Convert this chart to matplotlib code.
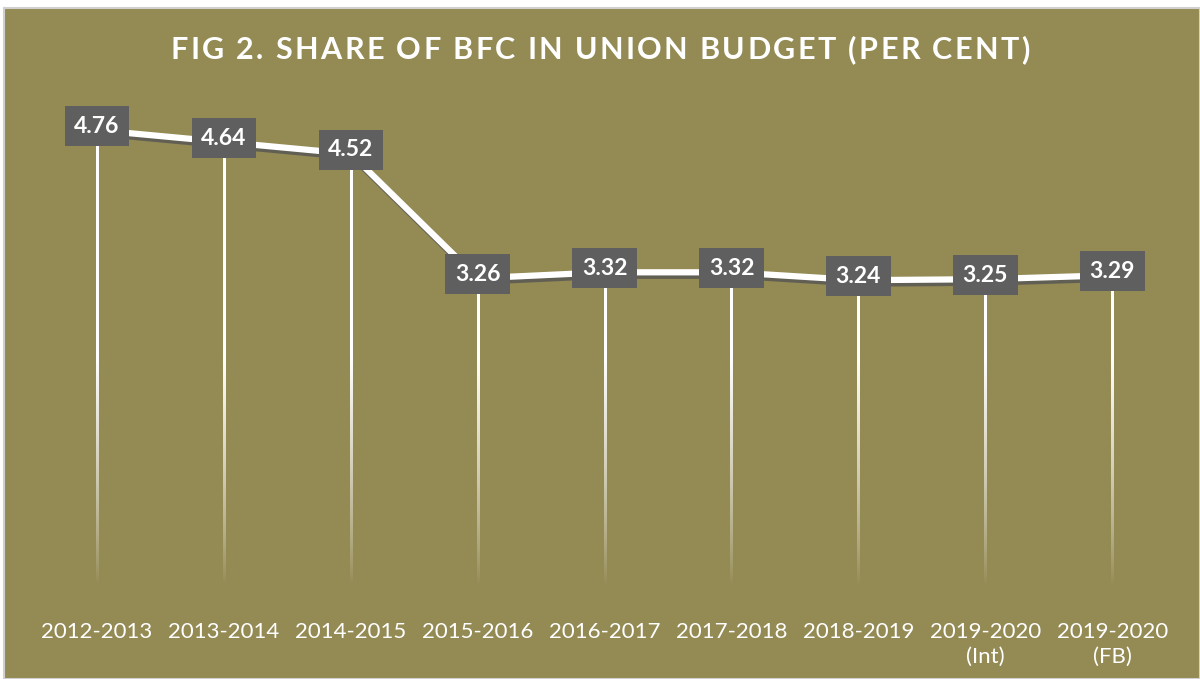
import matplotlib
matplotlib.use("Agg")
import matplotlib.pyplot as plt
import matplotlib.patheffects as pe
from matplotlib.patches import Rectangle
import numpy as np

plt.rcParams['font.family'] = ['Lato', 'DejaVu Sans']

years = ['2012-2013', '2013-2014', '2014-2015', '2015-2016', '2016-2017',
         '2017-2018', '2018-2019', '2019-2020\n(Int)', '2019-2020\n(FB)']
share = [4.76, 4.64, 4.52, 3.26, 3.32, 3.32, 3.24, 3.25, 3.29]
title = 'FIG 2. SHARE OF BFC IN UNION BUDGET (PER CENT)'

bg = '#948a54'

fig = plt.figure(figsize=(12, 6.79), dpi=100, facecolor='white')
# chart area with light grey border
fig.patches.append(Rectangle((4 / 1200, 0), 1 - 4 / 1200, 1 - 8 / 679,
                             transform=fig.transFigure, facecolor=bg,
                             edgecolor='#d0d0d0', linewidth=1.5, zorder=-1))

ax = fig.add_axes([0.028, 0.1163, 0.9517, 0.756])
ax.set_zorder(2)
ax.set_facecolor('none')
x = np.arange(len(years))

# drop lines fading out towards the axis (white gradient strips)
half_w = 0.008
for xi, v in zip(x, share):
    ys = np.linspace(v, 0.1, 200)
    alpha = np.clip((ys - 0.15) / 2.3, 0, 1) ** 0.8
    grad = np.ones((len(ys), 1, 4))
    grad[:, 0, 3] = alpha
    ax.imshow(grad, extent=(xi - half_w, xi + half_w, 0.1, v), origin='upper',
              aspect='auto', interpolation='bilinear', zorder=2)

ax.plot(x, share, color='white', linewidth=4.5, solid_capstyle='round', zorder=3,
        path_effects=[pe.SimpleLineShadow(offset=(1.5, -2.5), shadow_color='#555555', alpha=0.8),
                      pe.Normal()])

for xi, v in zip(x, share):
    ax.text(xi, v + 0.04, f'{v:.2f}', ha='center', va='center', color='white',
            fontsize=16.5, fontweight='bold', zorder=5,
            bbox=dict(boxstyle='square,pad=0.42', facecolor='#5f5f5f', edgecolor='none'))

ax.set_xlim(-0.5, len(years) - 0.5)
ax.set_ylim(0, 5.2)
ax.set_xticks(x)
ax.set_xticklabels(years, color='white', fontsize=16, linespacing=1.3)
ax.tick_params(axis='x', length=0, pad=16)
ax.set_yticks([])
for s in ax.spines.values():
    s.set_visible(False)

# title with letter spacing, placed char by char
r = fig.canvas.get_renderer()
tkw = dict(color='white', fontsize=22, fontweight='bold', va='center', ha='left')

def text_w(s):
    t = fig.text(0, 0, s + '|', **tkw)
    w = t.get_window_extent(r).width
    t.remove()
    return w

bar_w = text_w('')
track = 2.4
total = text_w(title) - bar_w + track * (len(title) - 1)
x0 = 600 - total / 2
for i, ch in enumerate(title):
    px = x0 + text_w(title[:i]) - bar_w + track * i
    fig.text(px / 1200, 1 - 50 / 679, ch, **tkw)

fig.savefig('out.png', dpi=100, facecolor='white')
